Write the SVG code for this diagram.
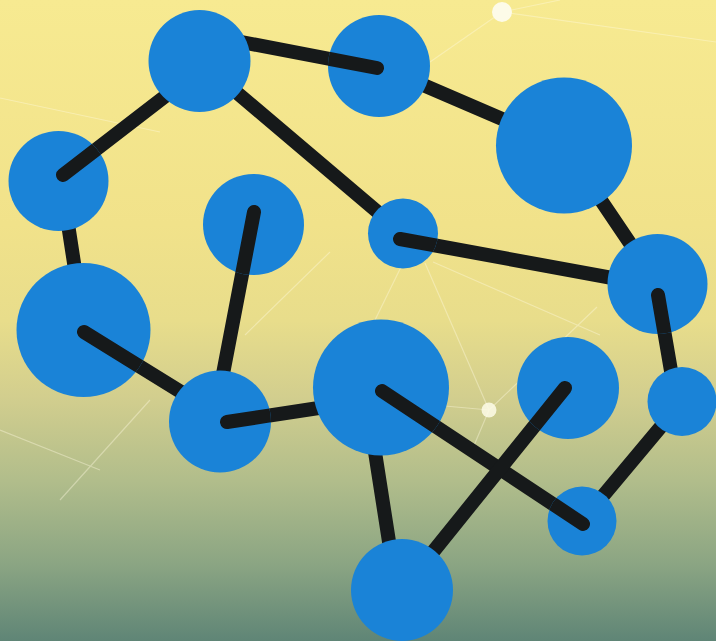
<svg xmlns="http://www.w3.org/2000/svg" xmlns:xlink="http://www.w3.org/1999/xlink" width="716" height="641" viewBox="0 0 716 641">
<defs>
<linearGradient id="bg" x1="0" y1="0" x2="0" y2="1">
<stop offset="0" stop-color="#f7ea91"/>
<stop offset="0.35" stop-color="#f1e28a"/>
<stop offset="0.5" stop-color="#e8dd8b"/>
<stop offset="0.62" stop-color="#d2ce8e"/>
<stop offset="0.75" stop-color="#b1bd8b"/>
<stop offset="0.88" stop-color="#8ba583"/>
<stop offset="1" stop-color="#5f8576"/>
</linearGradient>
<style>
.node{fill:#1a83d7}
.edge{stroke:#16191a;stroke-width:14;stroke-linecap:round;fill:none}
.faint{stroke:#fffbe0;stroke-width:1.2;opacity:0.4;fill:none}
.dot{fill:#fdfbe8}
</style>
<clipPath id="k2"><circle cx="379" cy="66" r="51"/></clipPath>
<clipPath id="k4"><circle cx="58.5" cy="181" r="50"/></clipPath>
<clipPath id="k5"><circle cx="253.5" cy="224.5" r="50.5"/></clipPath>
<clipPath id="k6"><circle cx="403" cy="233.5" r="35"/></clipPath>
<clipPath id="k7"><circle cx="657.5" cy="284" r="50"/></clipPath>
<clipPath id="k8"><circle cx="83.5" cy="330" r="67"/></clipPath>
<clipPath id="k9"><circle cx="381" cy="387.5" r="68"/></clipPath>
<clipPath id="k10"><circle cx="568" cy="388" r="51"/></clipPath>
<clipPath id="k11"><circle cx="220" cy="421.5" r="51"/></clipPath>
<clipPath id="k13"><circle cx="582" cy="521" r="34.5"/></clipPath>
</defs>
<rect width="716" height="641" fill="url(#bg)"/>
<g id="background-network">
<path class="faint" d="M489 410 L425 263 M489 410 L597 307 M489 410 L445 406 M489 410 L470 455 M433 262 L600 335 M330 252 L245 335 M402 265 L375 320 M502 12 L716 42 M502 12 L430 62 M502 12 L560 0 M0 98 L160 132 M150 400 L60 500 M0 430 L100 470"/>
<circle class="dot" cx="502" cy="12" r="10"/>
<circle class="dot" cx="489" cy="410" r="7.5" opacity="0.85"/>
</g>
<g id="connectors">
<line id="e1" class="edge" x1="377" y1="68" x2="210" y2="36"/>
<line id="e2" class="edge" x1="63" y1="175" x2="185" y2="81"/>
<line id="e3" class="edge" x1="199.5" y1="61" x2="403" y2="233.5"/>
<line id="e4" class="edge" x1="379" y1="66" x2="564" y2="145.5"/>
<line id="e5" class="edge" x1="400" y1="239" x2="645" y2="284"/>
<line id="e6" class="edge" x1="564" y1="145.5" x2="657.5" y2="284"/>
<line id="e7" class="edge" x1="658" y1="295" x2="676" y2="400"/>
<line id="e8" class="edge" x1="682" y1="401.5" x2="582" y2="521"/>
<line id="e9" class="edge" x1="62" y1="185" x2="82" y2="315"/>
<line id="e10" class="edge" x1="84" y1="332" x2="215" y2="413"/>
<line id="e11" class="edge" x1="254" y1="212" x2="218" y2="400"/>
<line id="e12" class="edge" x1="227" y1="422" x2="345" y2="404"/>
<line id="e13" class="edge" x1="382" y1="391" x2="583" y2="524"/>
<line id="e14" class="edge" x1="565" y1="388" x2="420" y2="568"/>
<line id="e15" class="edge" x1="370" y1="420" x2="395" y2="580"/>
</g>
<g id="n1"><circle class="node" cx="199.5" cy="61" r="51"/></g>
<g id="n2"><circle class="node" cx="379" cy="66" r="51"/></g>
<g id="n3"><circle class="node" cx="564" cy="145.5" r="68"/></g>
<g id="n4"><circle class="node" cx="58.5" cy="181" r="50"/></g>
<g id="n5"><circle class="node" cx="253.5" cy="224.5" r="50.5"/></g>
<g id="n6"><circle class="node" cx="403" cy="233.5" r="35"/></g>
<g id="n7"><circle class="node" cx="657.5" cy="284" r="50"/></g>
<g id="n8"><circle class="node" cx="83.5" cy="330" r="67"/></g>
<g id="n9"><circle class="node" cx="381" cy="387.5" r="68"/></g>
<g id="n10"><circle class="node" cx="568" cy="388" r="51"/></g>
<g id="n11"><circle class="node" cx="220" cy="421.5" r="51"/></g>
<g id="n12"><circle class="node" cx="682" cy="401.5" r="34.5"/></g>
<g id="n13"><circle class="node" cx="582" cy="521" r="34.5"/></g>
<g id="n14"><circle class="node" cx="402" cy="590" r="51"/></g>
<g id="connector-ends">
<use xlink:href="#e1" clip-path="url(#k2)"/>
<use xlink:href="#e2" clip-path="url(#k4)"/>
<use xlink:href="#e5" clip-path="url(#k6)"/>
<use xlink:href="#e7" clip-path="url(#k7)"/>
<use xlink:href="#e10" clip-path="url(#k8)"/>
<use xlink:href="#e11" clip-path="url(#k5)"/>
<use xlink:href="#e12" clip-path="url(#k11)"/>
<use xlink:href="#e13" clip-path="url(#k9)"/>
<use xlink:href="#e13" clip-path="url(#k13)"/>
<use xlink:href="#e14" clip-path="url(#k10)"/>
</g>
</svg>
